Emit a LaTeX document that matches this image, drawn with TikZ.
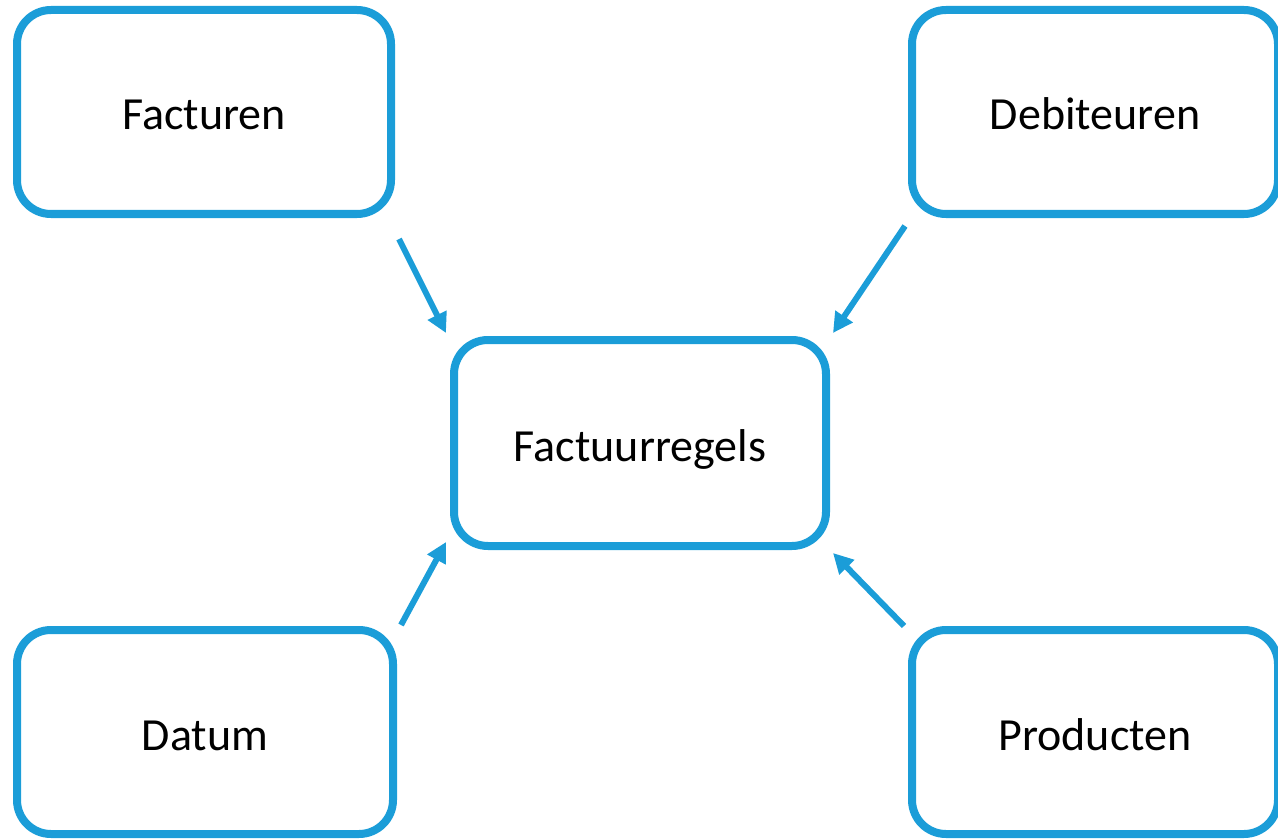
\documentclass[tikz,border=0pt]{standalone}
\usepackage{fontspec}
\setmainfont{Carlito}
\usetikzlibrary{arrows.meta}
\definecolor{boxblue}{RGB}{27,157,216}
\begin{document}
\begin{tikzpicture}[x=1pt,y=-1pt,
  entity/.style={draw=boxblue, line width=8pt, rounded corners=34pt,
    inner sep=0pt, text height=40pt, text depth=4pt,
    font=\fontsize{46}{55}\selectfont},
  link/.style={draw=boxblue, line width=6pt,
    -{Triangle[length=20pt,width=20pt]}}]
\useasboundingbox (0,0) rectangle (1278,840);

% five entity boxes
\node[entity, minimum width=374pt, minimum height=204pt] (facturen) at (204,112) {Facturen};
\node[entity, minimum width=366pt, minimum height=204pt] (debiteuren) at (1095,112) {Debiteuren};
\node[entity, minimum width=372pt, minimum height=206pt] (factuurregels) at (640,443) {Factuurregels};
\node[entity, minimum width=376pt, minimum height=204pt] (datum) at (205,732) {Datum};
\node[entity, minimum width=366pt, minimum height=204pt] (producten) at (1095,732) {Producten};

% relations pointing to the central table
\draw[link] ([shift={(4,21)}]facturen.south east) -- ([shift={(-4,-3)}]factuurregels.north west);
\draw[link] ([shift={(-3,8)}]debiteuren.south west) -- ([shift={(3,-3)}]factuurregels.north east);
\draw[link] ([shift={(4,-1)}]datum.north east) -- ([shift={(-4,-8)}]factuurregels.south west);
\draw[link] ([shift={(-4,0)}]producten.north west) -- ([shift={(3,3)}]factuurregels.south east);
\end{tikzpicture}
\end{document}
